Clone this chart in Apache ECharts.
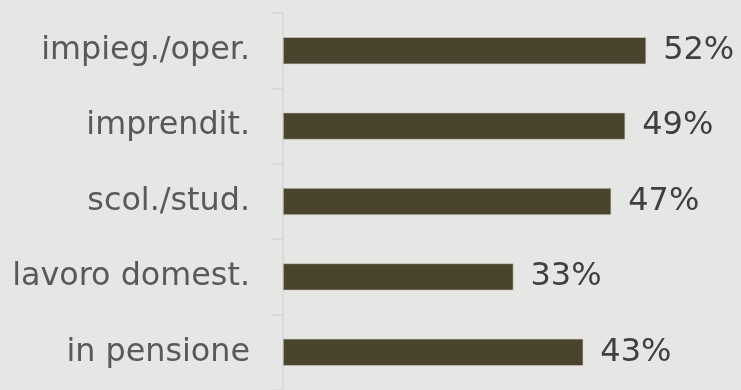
<!DOCTYPE html>
<html>
<head>
<meta charset="utf-8">
<script src="https://cdn.jsdelivr.net/npm/echarts@6/dist/echarts.min.js"></script>
<style>
  html, body { margin: 0; padding: 0; background: #e6e7e5; }
  #chart { width: 741px; height: 390px; }
</style>
</head>
<body>
<div id="chart"></div>
<script>
// Categories, top to bottom
const categories = ['impieg./oper.', 'imprendit.', 'scol./stud.', 'lavoro domest.', 'in pensione'];
// Share for each category, in percent
const values = [52, 49, 47, 33, 43];

const chart = echarts.init(document.getElementById('chart'));
chart.setOption({
  backgroundColor: '#e6e7e5',
  animation: false,
  grid: { left: 283, top: 13, width: 419, bottom: -5.5, containLabel: false },
  xAxis: {
    type: 'value', min: 0, max: 60, show: false
  },
  yAxis: {
    type: 'category',
    data: categories,
    inverse: true,
    axisLine: { show: true, lineStyle: { color: '#d6d7d5', width: 1.5 } },
    axisTick: { show: true, length: 11, lineStyle: { color: '#d6d7d5', width: 1.5 } },
    axisLabel: {
      margin: 33,
      color: '#595959',
      fontFamily: 'DejaVu Sans',
      fontSize: 31.8
    }
  },
  series: [{
    type: 'bar',
    data: values,
    barWidth: 27,
    itemStyle: { color: '#4a432d', borderColor: '#cfcfc8', borderWidth: 0.6 },
    label: {
      show: true,
      position: 'right',
      distance: 17,
      formatter: p => p.value + '%',
      color: '#404040',
      fontFamily: 'DejaVu Sans',
      fontSize: 32
    }
  }]
});
</script>
</body>
</html>
